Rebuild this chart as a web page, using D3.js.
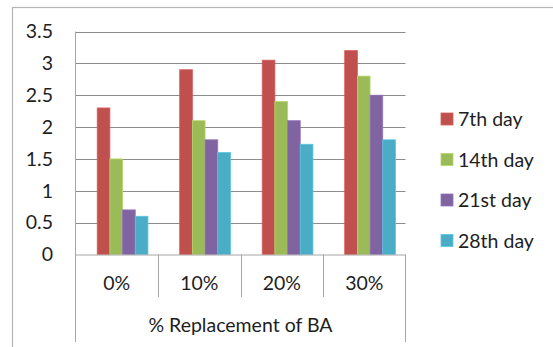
<!DOCTYPE html>
<html>
<head>
<meta charset="utf-8">
<script src="https://cdn.jsdelivr.net/npm/d3@7"></script>
<style>
  html, body { margin: 0; padding: 0; background: #fff; }
  svg { display: block; font-family: Lato, "Open Sans", sans-serif; }
</style>
</head>
<body>
<svg id="chart" width="553" height="347"></svg>
<script>
// Compressive strength by replacement level and curing age
const categories = ["0%", "10%", "20%", "30%"];
const seriesNames = ["7th day", "14th day", "21st day", "28th day"];
const day7  = [2.3, 2.9, 3.05, 3.2];
const day14 = [1.5, 2.1, 2.4, 2.8];
const day21 = [0.7, 1.8, 2.1, 2.5];
const day28 = [0.6, 1.6, 1.73, 1.8];
const yTicks = [0, 0.5, 1, 1.5, 2, 2.5, 3, 3.5];
const xTitle = "% Replacement of BA";
const colors = ["#C0504D", "#9BBB59", "#8064A2", "#4BACC6"];

const seriesValues = [day7, day14, day21, day28];
const fontSize = 19.5;
const textColor = "#1e1e1e";

const svg = d3.select("#chart");
const plot = { left: 75.5, right: 405.5, top: 31.5, bottom: 254.5 };

// Outer chart frame
svg.append("rect")
  .attr("x", 12.5).attr("y", 7.5)
  .attr("width", 560).attr("height", 360)
  .attr("fill", "none").attr("stroke", "#b4b4b4").attr("stroke-width", 1.2);

const y = d3.scaleLinear().domain([0, 3.5]).range([plot.bottom, plot.top]);
const x0 = d3.scaleBand().domain(categories).range([plot.left, plot.right]).padding(0);
const bw = x0.bandwidth();
const x1 = d3.scaleBand().domain(seriesNames)
  .range([bw * 0.263, bw * 0.878]).padding(0);

// Horizontal gridlines
svg.append("g").selectAll("line")
  .data(yTicks.filter(d => d > 0))
  .join("line")
  .attr("x1", plot.left).attr("x2", plot.right)
  .attr("y1", d => Math.round(y(d)) + 0.5).attr("y2", d => Math.round(y(d)) + 0.5)
  .attr("stroke", "#8c8c8c").attr("stroke-width", 1);

// Y axis labels
const yAxis = d3.axisLeft(y).tickValues(yTicks).tickSize(0).tickPadding(0)
  .tickFormat(d3.format("~g"));
const yg = svg.append("g").attr("transform", `translate(${plot.left - 22.5},0)`).call(yAxis);
yg.select(".domain").remove();
yg.selectAll("text").attr("font-size", fontSize).attr("fill", textColor)
  .attr("font-family", "Lato, 'Open Sans', sans-serif");

// Bars
const groups = svg.append("g").selectAll("g")
  .data(categories)
  .join("g")
  .attr("transform", d => `translate(${x0(d)},0)`);

groups.selectAll("rect")
  .data((c, i) => seriesNames.map((s, k) => ({ s, k, v: seriesValues[k][i] })))
  .join("rect")
  .attr("x", d => x1(d.s))
  .attr("y", d => y(d.v))
  .attr("width", x1.bandwidth())
  .attr("height", d => y(0) - y(d.v))
  .attr("fill", d => colors[d.k])
  .attr("stroke", d => d3.color(colors[d.k]).brighter(0.4))
  .attr("stroke-width", 0.8);

// Category axis: baseline, separators, labels
const axisColor = "#a6a6a6";
svg.append("line")
  .attr("x1", plot.left).attr("x2", plot.right)
  .attr("y1", plot.bottom + 0.5).attr("y2", plot.bottom + 0.5)
  .attr("stroke", axisColor);
svg.append("line")
  .attr("x1", plot.left).attr("x2", plot.left)
  .attr("y1", plot.top).attr("y2", 342)
  .attr("stroke", axisColor);
svg.append("line")
  .attr("x1", plot.right).attr("x2", plot.right)
  .attr("y1", plot.bottom).attr("y2", 342)
  .attr("stroke", axisColor);
svg.append("g").selectAll("line")
  .data(categories.slice(1))
  .join("line")
  .attr("x1", d => Math.round(x0(d)) + 0.5).attr("x2", d => Math.round(x0(d)) + 0.5)
  .attr("y1", plot.bottom).attr("y2", 297)
  .attr("stroke", axisColor);

svg.append("g").selectAll("text")
  .data(categories)
  .join("text")
  .attr("x", d => x0(d) + bw / 2)
  .attr("y", 290)
  .attr("text-anchor", "middle")
  .attr("font-size", fontSize).attr("fill", textColor)
  .text(d => d);

svg.append("text")
  .attr("x", (plot.left + plot.right) / 2)
  .attr("y", 332)
  .attr("text-anchor", "middle")
  .attr("font-size", fontSize).attr("fill", textColor)
  .text(xTitle);

// Legend
const legend = svg.append("g").selectAll("g")
  .data(seriesNames)
  .join("g")
  .attr("transform", (d, i) => `translate(441,${119 + i * 40.5})`);
legend.append("rect")
  .attr("x", 0).attr("y", -6).attr("width", 12).attr("height", 12)
  .attr("fill", (d, i) => colors[i])
  .attr("stroke", (d, i) => d3.color(colors[i]).brighter(0.4)).attr("stroke-width", 0.8);
legend.append("text")
  .attr("x", 17).attr("y", 7)
  .attr("font-size", fontSize).attr("fill", textColor)
  .text(d => d);
</script>
</body>
</html>
